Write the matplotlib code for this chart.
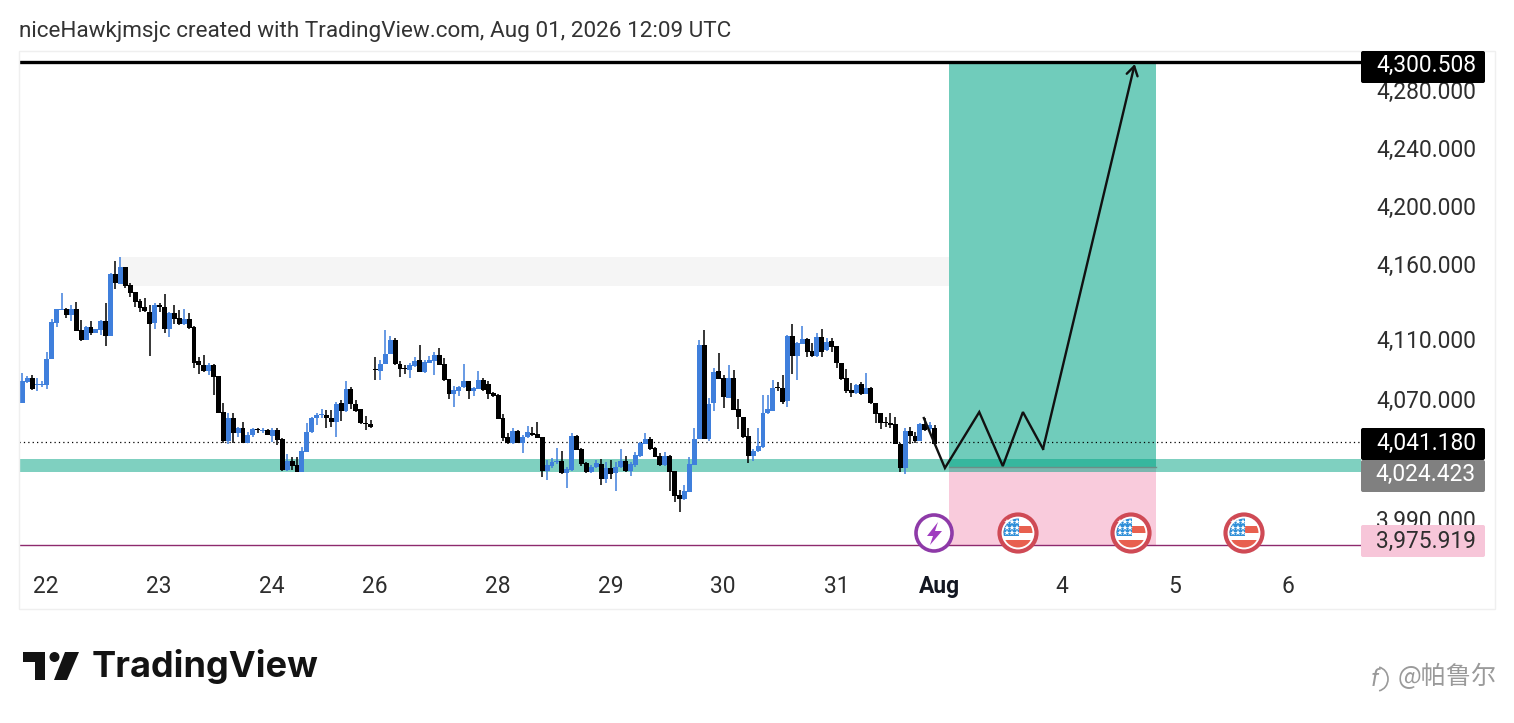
import numpy as np
import matplotlib
matplotlib.use("Agg")
import matplotlib.pyplot as plt
from matplotlib.patches import Rectangle, Circle, Polygon, FancyBboxPatch, Arc

plt.rcParams['font.family'] = ['Roboto', 'Noto Sans CJK SC', 'DejaVu Sans']

# hourly bars
opens = [4067.6,4081.6,4083.8,4079.3,4079.3,4079.6,4096.6,4120.9,4129.6,4130.0,
         4126.2,4130.0,4116.0,4109.6,4117.8,4114.2,4116.0,4122.0,4112.2,4153.3,
         4146.7,4158.2,4146.0,4141.3,4135.6,4131.1,4128.0,4120.9,4132.7,4131.1,
         4116.7,4127.1,4123.8,4120.0,4123.1,4118.2,4095.1,4092.9,4088.9,4092.7,
         4085.3,4061.1,4042.2,4057.1,4047.5,4050.7,4040.4,4045.8,4049.6,4048.9,
         4049.3,4045.5,4049.3,4043.1,4022.7,4028.9,4026.0,4021.6,4034.9,4047.8,
         4057.1,4059.1,4059.3,4057.1,4054.7,4067.1,4062.0,4076.7,4066.7,4063.3,
         4054.0,4053.3,4090.0,4088.9,4093.3,4100.0,4109.3,4093.1,4090.4,4089.3,
         4092.0,4096.0,4088.0,4094.2,4095.6,4099.3,4093.3,4083.1,4073.3,4075.6,
         4077.8,4082.0,4075.3,4076.7,4082.7,4080.0,4074.2,4072.7,4057.1,4044.4,
         4040.4,4048.7,4040.4,4044.4,4047.6,4046.4,4044.9,4022.2,4025.6,4027.8,
         4028.7,4020.7,4022.7,4045.6,4036.4,4027.1,4021.3,4024.4,4026.7,4016.7,
         4023.8,4020.9,4024.4,4028.7,4022.0,4026.2,4032.2,4040.2,4043.3,4037.1,
         4032.0,4026.2,4032.2,4022.0,4006.0,4003.3,4008.0,4026.2,4043.6,4106.0,
         4043.1,4067.6,4088.7,4083.8,4070.9,4084.2,4063.1,4058.0,4045.3,4032.0,
         4035.3,4037.8,4060.7,4062.2,4077.6,4077.3,4068.4,4112.0,4098.9,4106.7,
         4109.8,4101.8,4098.7,4111.1,4102.7,4108.4,4105.3,4094.2,4083.8,4075.8,
         4074.0,4080.0,4073.6,4077.3,4067.1,4060.4,4054.4,4053.8,4053.3,4040.0,
         4024.2,4048.4,4045.3,4042.2,4053.3,4049.8,4050.9]
closes = [4082.0,4083.8,4076.7,4079.8,4079.8,4096.6,4121.1,4129.8,4130.0,4126.2,
          4130.0,4115.6,4109.3,4117.8,4114.0,4116.7,4122.2,4112.2,4153.3,4147.1,
          4158.2,4145.6,4140.9,4134.9,4130.9,4128.7,4120.0,4132.7,4131.1,4116.7,
          4127.1,4123.3,4120.0,4123.3,4117.1,4094.2,4092.9,4088.9,4092.7,4084.9,
          4060.9,4042.2,4057.1,4047.5,4050.7,4040.9,4046.0,4049.8,4049.1,4049.3,
          4046.0,4049.3,4042.7,4022.7,4028.9,4025.3,4021.6,4035.1,4048.0,4057.3,
          4059.6,4059.6,4057.1,4054.7,4066.7,4062.0,4076.7,4066.4,4062.2,4053.8,
          4053.1,4051.6,4089.6,4093.1,4100.0,4109.3,4093.1,4090.2,4090.0,4092.7,
          4095.3,4088.0,4094.4,4096.0,4099.3,4092.7,4082.7,4073.3,4076.0,4078.2,
          4082.0,4075.6,4077.1,4082.7,4076.0,4073.3,4072.0,4056.9,4044.0,4040.4,
          4048.7,4040.4,4044.9,4048.0,4046.0,4044.2,4022.0,4026.0,4028.2,4028.7,
          4020.4,4023.1,4045.6,4036.2,4026.7,4021.1,4024.9,4027.1,4016.7,4023.8,
          4020.2,4024.9,4028.7,4022.2,4026.7,4032.7,4040.7,4043.3,4036.7,4031.6,
          4026.0,4032.0,4021.6,4005.6,4003.3,4008.4,4026.7,4043.3,4106.0,4043.6,
          4066.7,4088.2,4083.3,4071.6,4084.2,4062.7,4058.0,4044.4,4032.0,4035.6,
          4038.7,4060.4,4063.3,4077.1,4077.1,4068.0,4112.0,4098.7,4107.6,4109.8,
          4101.6,4098.7,4111.1,4101.3,4108.2,4104.9,4094.2,4083.3,4075.3,4074.0,
          4079.6,4073.3,4077.3,4067.1,4060.0,4054.2,4054.0,4052.9,4040.2,4024.2,
          4048.7,4045.1,4042.2,4053.3,4049.3,4052.7,4040.0]
highs = [4087.1,4085.3,4086.0,4083.8,4082.2,4101.5,4123.3,4129.8,4140.4,4130.4,
         4132.7,4134.4,4122.7,4118.7,4122.0,4116.7,4122.7,4134.2,4154.2,4162.2,
         4164.9,4158.2,4147.1,4141.6,4136.4,4137.1,4132.7,4133.8,4133.8,4140.0,
         4127.8,4132.7,4129.3,4129.8,4127.1,4118.7,4097.8,4099.3,4094.2,4093.3,
         4085.3,4067.1,4060.4,4060.4,4051.6,4054.4,4048.2,4050.4,4050.9,4050.4,
         4050.0,4050.9,4050.4,4043.8,4033.3,4031.1,4031.1,4038.2,4053.8,4058.2,
         4060.4,4063.1,4062.7,4062.7,4068.2,4069.3,4082.0,4078.2,4069.3,4063.3,
         4058.7,4056.0,4097.8,4096.0,4116.0,4112.0,4110.4,4095.3,4092.7,4094.2,
         4098.2,4106.0,4096.0,4098.7,4101.6,4103.8,4097.1,4083.1,4078.7,4078.7,
         4093.3,4082.0,4078.2,4088.9,4083.8,4082.0,4074.9,4073.3,4060.0,4047.1,
         4050.4,4049.3,4046.0,4052.0,4051.6,4054.7,4044.9,4029.3,4030.4,4037.1,
         4035.3,4024.9,4047.1,4046.0,4037.1,4028.2,4026.0,4029.3,4029.8,4028.2,
         4029.3,4028.2,4036.4,4032.0,4028.2,4034.9,4041.6,4047.1,4044.4,4038.2,
         4033.8,4034.9,4032.7,4022.0,4009.3,4012.7,4031.6,4050.4,4109.3,4116.0,
         4070.4,4090.4,4100.4,4086.0,4092.7,4089.3,4069.8,4058.2,4050.4,4036.4,
         4050.4,4072.7,4072.7,4082.7,4081.6,4086.0,4112.7,4120.0,4108.2,4118.7,
         4110.4,4107.6,4114.2,4116.4,4110.4,4110.4,4105.3,4094.2,4089.8,4080.4,
         4080.0,4081.6,4087.6,4078.2,4067.1,4060.4,4057.8,4060.4,4058.2,4040.4,
         4050.4,4051.6,4048.2,4053.8,4057.1,4054.9,4052.7]
lows = [4067.6,4080.4,4076.0,4075.6,4078.2,4076.4,4096.6,4118.2,4129.3,4124.2,
        4122.2,4115.6,4108.9,4109.3,4112.7,4113.8,4112.7,4105.3,4112.2,4143.3,
        4146.7,4143.8,4138.2,4131.1,4128.2,4128.2,4098.7,4116.4,4128.2,4113.8,
        4111.6,4120.0,4119.3,4119.3,4116.4,4090.4,4086.7,4088.2,4086.0,4072.7,
        4060.9,4040.4,4039.8,4040.9,4044.9,4040.4,4040.4,4044.9,4047.5,4047.5,
        4045.8,4041.6,4039.3,4022.2,4022.2,4022.7,4021.6,4021.6,4034.9,4047.5,
        4052.7,4057.1,4050.9,4051.1,4044.4,4055.5,4061.5,4063.1,4061.5,4053.3,
        4049.3,4050.9,4082.7,4082.7,4093.3,4100.0,4092.7,4084.9,4086.5,4083.8,
        4091.6,4088.0,4087.1,4093.8,4086.0,4092.7,4082.0,4070.0,4064.9,4072.0,
        4077.1,4070.0,4072.2,4076.4,4075.6,4070.0,4071.6,4056.9,4042.2,4040.0,
        4040.0,4040.4,4033.8,4044.0,4045.6,4043.8,4018.2,4016.0,4023.8,4026.7,
        4020.0,4010.9,4022.2,4036.0,4025.6,4020.9,4020.9,4023.8,4012.7,4014.2,
        4016.4,4008.7,4023.8,4021.6,4018.9,4024.9,4031.6,4040.0,4036.0,4031.1,
        4025.6,4025.6,4008.7,4001.6,3994.9,4002.7,4008.0,4026.2,4043.6,4043.6,
        4042.2,4062.2,4083.1,4063.8,4070.4,4062.7,4050.2,4043.8,4027.6,4028.9,
        4034.9,4037.3,4060.2,4062.0,4075.3,4066.7,4064.9,4086.7,4082.7,4106.7,
        4098.2,4098.2,4098.2,4098.2,4102.2,4101.6,4090.4,4082.7,4073.8,4071.6,
        4073.3,4072.9,4073.3,4066.7,4053.8,4050.2,4051.6,4050.4,4040.0,4021.6,
        4019.8,4040.0,4040.4,4041.8,4048.9,4047.1,4040.0]

day_labels = ['22', '23', '24', '26', '28', '29', '30', '31', 'Aug', '4', '5', '6']
day_bars = [4.8, 27.9, 50.9, 71.9, 97.0, 120.0, 142.9, 166.0, 187.0, 212.0, 235.0, 258.1]
price_ticks = [3990, 4070, 4110, 4160, 4200, 4240, 4280]

# the pane is not linear, these pairs are price -> pixel row
scale_price = [3900.0, 3975.919, 3990.0, 4160.0, 4280.0, 4300.508, 4400.0]
scale_row = [680.0, 545.0, 519.0, 264.0, 90.0, 62.0, -80.0]

target = 4300.508
entry = 4024.423
stop = 3975.919
last_price = 4041.18
zone_hi, zone_lo = 4030.0, 4021.3
supply_hi, supply_lo = 4164.7, 4145.3
path_bars = [183.8, 188.1, 195.1, 199.9, 204.0, 208.1, 226.8]
path_prices = [4057.3, 4024.0, 4061.3, 4025.3, 4061.3, 4036.7, 4299.0]
flag_cols = [1018, 1131, 1244]

W, H = 1514, 723
UP = '#3f7fdc'
DOWN = '#000000'


def fwd(p):
    return -np.interp(p, scale_price, scale_row)


def inv(t):
    return np.interp(-np.asarray(t), scale_row[::-1], scale_price[::-1])


fig = plt.figure(figsize=(W / 100, H / 100), dpi=100, facecolor='white')

# overlay in pixels for header, logo, tags and icons
ov = fig.add_axes([0, 0, 1, 1], zorder=3)
ov.set_xlim(0, W)
ov.set_ylim(H, 0)
ov.axis('off')
ov.patch.set_alpha(0)

ax = fig.add_axes([19 / W, (H - 566) / H, 1342 / W, 514 / H], zorder=2)
ax.set_yscale('function', functions=(fwd, inv))
ax.set_xlim((19 - 22.3) / 4.905, (1361 - 22.3) / 4.905)
ax.set_ylim(float(inv(-566)), float(inv(-52)))
for s in ax.spines.values():
    s.set_visible(False)
ax.patch.set_alpha(0)

ov.add_patch(Rectangle((19, 51), 1476, 558, fill=False, ec='#efefef', lw=1, zorder=0))

# boxes and levels
xl = ax.get_xlim()
ax.add_patch(Rectangle((19.9, supply_lo), 169, supply_hi - supply_lo, fc='#f5f5f5', ec='none', zorder=1))
ax.add_patch(Rectangle((188.9, entry), 42.3, target - entry, fc='#70ccbb', ec='none', zorder=1))
ax.add_patch(Rectangle((188.9, stop), 42.3, entry - stop, fc='#f9cbdc', ec='none', zorder=1))
ax.add_patch(Rectangle((xl[0], zone_lo), xl[1] - xl[0], zone_hi - zone_lo, fc='#00a383', alpha=0.5, ec='none', zorder=1.5))
ax.plot([188.9, 231.2], [entry, entry], color='#6b8f88', lw=1, zorder=1.6)
ax.axhline(target, color='black', lw=2.4, zorder=4)
ax.axhline(stop, color='#8e2a6e', lw=1, zorder=1.6)
ax.axhline(last_price, color='black', lw=0.9, ls=(0, (1, 2.5)), zorder=1.6)

# candles
opens = np.array(opens)
closes = np.array(closes)
bars = np.arange(len(opens))
cols = [UP if c > o else DOWN for o, c in zip(opens, closes)]
ax.vlines(bars, lows, highs, colors=cols, lw=1.1, zorder=2)
ax.bar(bars, np.maximum(np.abs(closes - opens), 0.7), bottom=np.minimum(opens, closes),
       width=1.0, color=cols, lw=0, zorder=2.1)

# projected path
ax.plot(path_bars[:-1], path_prices[:-1], color='#111111', lw=1.7, zorder=5, solid_joinstyle='miter')
ax.annotate('', xy=(path_bars[-1], path_prices[-1]), xytext=(path_bars[-2], path_prices[-2]),
            arrowprops=dict(arrowstyle='->,head_length=0.65,head_width=0.4', color='#111111', lw=1.7,
                            shrinkA=0, shrinkB=0), zorder=5)

# axes text
ax.yaxis.tick_right()
ax.set_yticks(price_ticks)
ax.set_yticks([], minor=True)
ax.set_yticklabels([f'{p:,.3f}' for p in price_ticks], fontsize=16.4, color='#2e2e2e')
ax.tick_params(axis='y', length=0, pad=11)
ax.set_xticks(day_bars)
ax.set_xticklabels(day_labels, fontsize=16.4, color='#2e2e2e')
ax.tick_params(axis='x', length=0, pad=6.2)
for lab in ax.get_xticklabels():
    if lab.get_text() == 'Aug':
        lab.set_fontweight('bold')
        lab.set_color('#131722')

# price tags
tags = [(target, 51, 83, 65, '#000000', 'white'),
        (last_price, 428, 460, 443, '#000000', 'white'),
        (entry, 460, 492, 474, '#808080', 'white'),
        (stop, 525, 557, 541, '#f7c6d9', '#2e2e2e')]
for val, top, bot, mid, bg, fg in tags:
    ov.add_patch(FancyBboxPatch((1361, top), 124, bot - top, boxstyle='round,pad=0,rounding_size=2',
                                fc=bg, ec='none', zorder=4))
    ov.text(1476, mid, f'{val:,.3f}', color=fg, fontsize=16.4, ha='right', va='center', zorder=5)

# event icons
ov.add_patch(Circle((934, 533), 18, fc='white', ec='#8e3aa8', lw=2.6, zorder=6))
ov.add_patch(Polygon([(938, 522), (927, 536), (933, 536), (930, 545), (942, 531), (935, 531)],
                     fc='#a03cc0', ec='none', zorder=7))
for fx in flag_cols:
    clip = Circle((fx, 533), 14.5, transform=ov.transData)
    ov.add_patch(Circle((fx, 533), 18.5, fc='white', ec='#cf4a55', lw=3, zorder=6))
    for y0, y1 in [(526, 533), (540, 548)]:
        r = ov.add_patch(Rectangle((fx - 17, y0), 34, y1 - y0, fc='#e8604f', ec='none', zorder=7))
        r.set_clip_path(clip)
    r = ov.add_patch(Rectangle((fx - 17, 516), 18, 20, fc='#2f8fd8', ec='none', zorder=8))
    r.set_clip_path(clip)
    for sy in [522, 528, 533]:
        ov.plot([fx - 11, fx - 6, fx - 1], [sy] * 3, ls='', marker='*', ms=4, color='white', mew=0, zorder=9)

# header
ov.text(19, 31.5, 'niceHawkjmsjc created with TradingView.com, Aug 01, 2026 12:09 UTC',
        fontsize=16.17, color='#333333', va='center', ha='left')

# logo
ov.add_patch(Polygon([(22.7, 652), (44.5, 652), (44.5, 680), (34.5, 680), (34.5, 662), (22.7, 662)], fc='#131313', ec='none'))
ov.add_patch(Circle((54.5, 657), 5, fc='#131313', ec='none'))
ov.add_patch(Polygon([(65, 652), (79, 652), (67, 680), (54, 680)], fc='#131313', ec='none'))
ov.text(92, 667, 'TradingView', fontsize=26, fontweight='bold', family=['Inter', 'DejaVu Sans'],
        color='#131313', va='center', ha='left')

# watermark
ov.text(1398, 677, '@帕鲁尔', fontsize=18.1, color='#9a9a9a', va='center', ha='left', fontweight='light',
        family=['Noto Sans CJK SC', 'DejaVu Sans'])
ov.text(1371, 679, 'f', fontsize=17, style='italic', color='#9a9a9a', va='center', ha='left')
ov.add_patch(Arc((1377, 679), 22, 24, theta1=280, theta2=80, ec='#9a9a9a', lw=1.2))

fig.savefig('out.png', dpi=100, facecolor='white')
